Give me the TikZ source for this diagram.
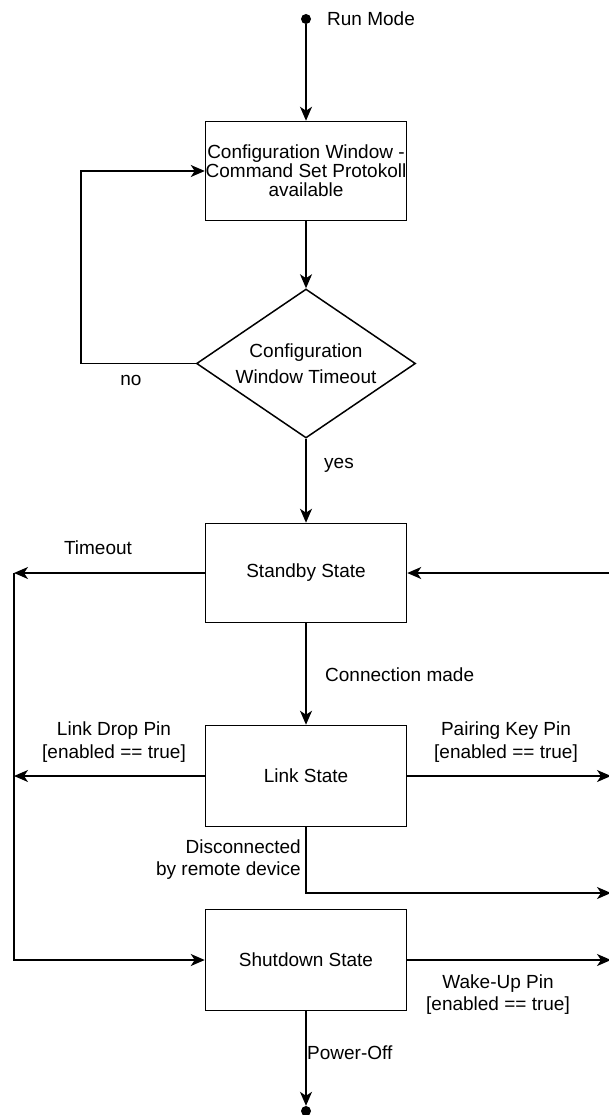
\documentclass[tikz,border=0pt]{standalone}
\usepackage{fontspec}
\setmainfont{Liberation Sans}
\usetikzlibrary{arrows.meta,shapes.geometric}

\begin{document}
\begin{tikzpicture}[x=1pt,y=-1pt,
  every node/.style={font=\fontsize{19}{22.7}\selectfont},
  state/.style={draw, line width=1.5pt, minimum width=201pt, minimum height=99pt, inner sep=0pt, align=center},
  decision/.style={draw, diamond, line width=1.5pt, aspect=1.47, minimum width=219pt, minimum height=149pt, inner sep=0pt, align=center},
  flow/.style={line width=1.5pt, -{Stealth[length=14pt,width=12pt,inset=4pt]}},
  lbl/.style={inner sep=0pt, align=center},
  dot/.style={circle, fill, inner sep=0pt, minimum size=10pt}]

\useasboundingbox (0,0) rectangle (609,1115);
\clip (0,0) rectangle (609,1115);

% states
\node[dot] (start) at (306,19) {};
\node[state, font=\fontsize{19}{18.8}\selectfont] (cfg) at (306,171)
  {Configuration Window -\\Command Set Protokoll\\available};
\node[decision, font=\fontsize{19}{25.5}\selectfont] (dec) at (306,363.5)
  {Configuration\\Window Timeout};
\node[state] (stb) at (306,573) {Standby State};
\node[state, minimum height=101pt] (lnk) at (306,776) {Link State};
\node[state, minimum height=101pt] (shd) at (306,960) {Shutdown State};
\node[dot] (fin) at (306,1111) {};

% helper points for the open ends and corners
\coordinate (loop) at (81,0);
\coordinate (left) at (14,573);
\coordinate (rin) at (622,573);
\coordinate (rout) at (611,0);
\coordinate (drop) at (0,893);

% connectors
\draw[flow] (start) -- (cfg.north);
\draw[flow] (cfg.south) -- (dec.north);
\draw[flow] (dec.west) -- (dec.west -| loop) |- (cfg.west);
\draw[flow] (dec.south) -- (stb.north);
\draw[flow] (stb.south) -- (lnk.north);
\draw[flow] (stb.west) -- (left);
\draw[flow] (left) |- (shd.west);
\draw[flow] (rin) -- (stb.east);
\draw[flow] (lnk.west) -- (lnk.west -| left);
\draw[flow] (lnk.east) -- (lnk.east -| rout);
\draw[flow] (lnk.south) |- (drop -| rout);
\draw[flow] (shd.east) -- (shd.east -| rout);
\draw[flow] (shd.south) -- (fin.north);

% labels
\node[lbl, anchor=west] (runlbl) at (327,19) {Run Mode};
\node[lbl] (nolbl) at (131,380) {no};
\node[lbl] (yeslbl) at (339,465) {yes};
\node[lbl] (tolbl) at (98,548) {Timeout};
\node[lbl, anchor=west] (cmlbl) at (325,675) {Connection made};
\node[lbl] (ldlbl) at (114,742) {Link Drop Pin\\{[enabled == true]}};
\node[lbl] (pklbl) at (506,742) {Pairing Key Pin\\{[enabled == true]}};
\node[lbl, align=right, anchor=east] (dclbl) at (301,859.5) {Disconnected\\by remote device};
\node[lbl] (wulbl) at (498,994.5) {Wake-Up Pin\\{[enabled == true]}};
\node[lbl, anchor=west] (polbl) at (307,1053) {Power-Off};
\end{tikzpicture}
\end{document}
